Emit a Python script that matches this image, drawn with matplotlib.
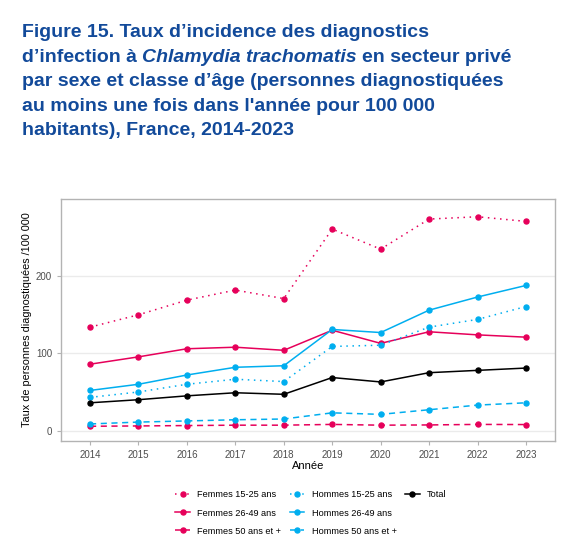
import matplotlib
matplotlib.use("Agg")
import matplotlib.pyplot as plt
from matplotlib.lines import Line2D

years = [2014, 2015, 2016, 2017, 2018, 2019, 2020, 2021, 2022, 2023]
femmes_15_25 = [134, 150, 169, 182, 171, 261, 235, 274, 277, 271]
femmes_26_49 = [86, 95.5, 106, 108, 104, 130, 113, 128, 124, 121]
femmes_50 = [5.6, 6, 6.5, 7, 7, 8, 7, 7.3, 8, 7.8]
hommes_15_25 = [43, 50, 60, 66.5, 63.5, 109, 110.6, 134, 144, 160.7]
hommes_26_49 = [52, 60, 72, 82, 84, 131, 127, 156, 173, 188]
hommes_50 = [8.6, 11, 12.5, 14, 15, 23, 21, 27, 33, 36]
total = [36, 40, 45, 49, 47, 68.7, 63, 75, 78, 81]
yticks = [0, 100, 200]

PINK = "#E6005A"
BLUE = "#00AEEF"
TITLE = "#124A9A"
DOT = (0, (1, 3))
DASH = (0, (4, 3))

plt.rcParams['font.family'] = ['Liberation Sans', 'DejaVu Sans']

W, H = 569, 548
fig = plt.figure(figsize=(W/100, H/100), dpi=100)
renderer = fig.canvas.get_renderer()

TFS = 14.0
baselines = [37, 62, 86.5, 111, 135]
x0 = 22
def tline(x, y, s, style='normal'):
    return fig.text(x/W, 1 - y/H, s, ha='left', va='baseline', fontsize=TFS,
                    fontweight='bold', fontstyle=style, color=TITLE)

tline(x0, baselines[0], "Figure 15. Taux d\u2019incidence des diagnostics")
t_ab = fig.text(0, 0, "a b", fontsize=TFS, fontweight='bold')
t_ab2 = fig.text(0, 0, "ab", fontsize=TFS, fontweight='bold')
space = t_ab.get_window_extent(renderer).width - t_ab2.get_window_extent(renderer).width
t_ab.remove(); t_ab2.remove()
p1 = tline(x0, baselines[1], "d\u2019infection \u00e0")
x = x0 + p1.get_window_extent(renderer).width + space
p2 = tline(x, baselines[1], "Chlamydia trachomatis", style='italic')
x = x + p2.get_window_extent(renderer).width + space
tline(x, baselines[1], "en secteur priv\u00e9")
tline(x0, baselines[2], "par sexe et classe d\u2019\u00e2ge (personnes diagnostiqu\u00e9es")
tline(x0, baselines[3], "au moins une fois dans l'ann\u00e9e pour 100 000")
tline(x0, baselines[4], "habitants), France, 2014-2023")

ax = fig.add_axes([61/W, 1 - 441/H, (555-61)/W, (441-199)/H])

series = [
    ("Femmes 15-25 ans", femmes_15_25, PINK, DOT),
    ("Femmes 26-49 ans", femmes_26_49, PINK, '-'),
    ("Femmes 50 ans et +", femmes_50, PINK, DASH),
    ("Hommes 15-25 ans", hommes_15_25, BLUE, DOT),
    ("Hommes 26-49 ans", hommes_26_49, BLUE, '-'),
    ("Hommes 50 ans et +", hommes_50, BLUE, DASH),
    ("Total", total, 'black', '-'),
]
handles = []
for label, vals, col, ls in series:
    h, = ax.plot(years, vals, color=col, linestyle=ls, linewidth=1.1,
                 marker='o', markersize=3.6, label=label)
    handles.append(h)
blank = Line2D([], [], linestyle='none', marker=None)
handles_leg = handles + [blank, blank]
labels_leg = [s[0] for s in series] + ["", ""]

ax.set_xlim(2013.4, 2023.6)
ax.set_ylim(-13.5, 300)
ax.set_xticks(years)
ax.set_yticks(yticks)
ax.grid(axis='y', color='#EBEBEB', linewidth=1)
ax.set_axisbelow(True)
for s in ax.spines.values():
    s.set_color('#B3B3B3')
    s.set_linewidth(1)
ax.tick_params(colors='#B3B3B3', labelcolor='#4D4D4D', labelsize=7, length=3)
ax.set_xlabel("Ann\u00e9e", fontsize=8, labelpad=1)
ax.set_ylabel("Taux de personnes diagnostiqu\u00e9es /100 000", fontsize=7.8, labelpad=3)

fig.legend(handles=handles_leg, labels=labels_leg, ncol=3, loc='center',
           bbox_to_anchor=(311/W, 1 - 513/H),
           frameon=False, fontsize=6.6, handlelength=1.6, columnspacing=0.9,
           labelspacing=1.0, handletextpad=0.8)

fig.savefig("out.png", dpi=100)
